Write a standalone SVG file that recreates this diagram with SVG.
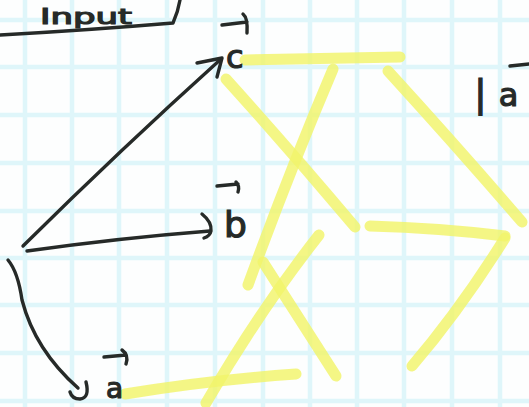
<svg xmlns="http://www.w3.org/2000/svg" width="529" height="407" viewBox="0 0 529 407">
<style>
.grid line{stroke:#dff6fa;stroke-width:4.5}
.ink{fill:none;stroke:#262a28;stroke-width:3.4;stroke-linecap:round;stroke-linejoin:round}
.lbl{font-family:"DejaVu Sans","Liberation Sans",sans-serif;fill:#262a28;stroke:#262a28;stroke-width:1.2}
.hl{fill:none;stroke:#f2f46a;stroke-opacity:0.82;stroke-width:11;stroke-linecap:round}
</style>
<rect width="529" height="407" fill="#fdfefe"/>
<g class="grid">
<line x1="25" y1="0" x2="25" y2="407"/><line x1="72" y1="0" x2="72" y2="407"/><line x1="119" y1="0" x2="119" y2="407"/><line x1="167" y1="0" x2="167" y2="407"/><line x1="215" y1="0" x2="215" y2="407"/><line x1="263" y1="0" x2="263" y2="407"/><line x1="310" y1="0" x2="310" y2="407"/><line x1="357" y1="0" x2="357" y2="407"/><line x1="404" y1="0" x2="404" y2="407"/><line x1="452" y1="0" x2="452" y2="407"/><line x1="500" y1="0" x2="500" y2="407"/>
<line x1="0" y1="20" x2="529" y2="20"/><line x1="0" y1="67" x2="529" y2="67"/><line x1="0" y1="115" x2="529" y2="115"/><line x1="0" y1="163" x2="529" y2="163"/><line x1="0" y1="211" x2="529" y2="211"/><line x1="0" y1="258" x2="529" y2="258"/><line x1="0" y1="305" x2="529" y2="305"/><line x1="0" y1="353" x2="529" y2="353"/><line x1="0" y1="401" x2="529" y2="401"/>
</g>
<g id="highlights">
<path class="hl" d="M245,60 L400,57"/>
<path class="hl" d="M226,79 Q290,150 355,227"/>
<path class="hl" d="M333,69 Q290,170 248,285"/>
<path class="hl" d="M388,71 Q460,150 522,222"/>
<path class="hl" d="M370,226 Q440,228 505,236"/>
<path class="hl" d="M505,238 Q460,310 412,366"/>
<path class="hl" d="M319,235 Q260,310 206,403"/>
<path class="hl" d="M263,262 Q300,320 336,376"/>
<path class="hl" d="M125,394 Q210,380 296,374"/>
</g>
<g id="input-box">
<path class="ink" d="M0,35 Q90,30 173,23 Q178,12 180,0"/>
<text class="lbl" x="40" y="24" font-size="22" textLength="92" lengthAdjust="spacingAndGlyphs">Input</text>
</g>
<g id="vec-c">
<path class="ink" d="M222,25 L247,22 M243,14 Q248,18 247,33"/>
<text class="lbl" x="226" y="68" font-size="32">c</text>
</g>
<g id="vec-b">
<path class="ink" d="M217,186 L238,184 M236,182 Q240,186 238,192"/>
<text class="lbl" x="224" y="237" font-size="36">b</text>
</g>
<g id="vec-a">
<path class="ink" d="M104,357 L126,355 M122,350 Q129,355 126,364"/>
<text class="lbl" x="106" y="398" font-size="28">a</text>
</g>
<g id="norm-a">
<path class="ink" d="M510,66 L529,64"/>
<text class="lbl" x="474" y="106" font-size="38">|<tspan dx="12" font-size="32">a</tspan></text>
</g>
<g id="connectors">
<path class="ink" d="M23,246 Q120,150 221,59"/>
<path class="ink" d="M197,63 L222,58 L217,77"/>
<path class="ink" d="M27,251 Q120,238 210,231"/>
<path class="ink" d="M202,214 Q212,222 211,231 Q210,236 204,238"/>
<path class="ink" d="M8,260 Q18,272 22,300 Q35,350 78,388"/>
<path class="ink" d="M86,382 Q90,398 80,399 Q72,399 70,392"/>
</g>
</svg>
